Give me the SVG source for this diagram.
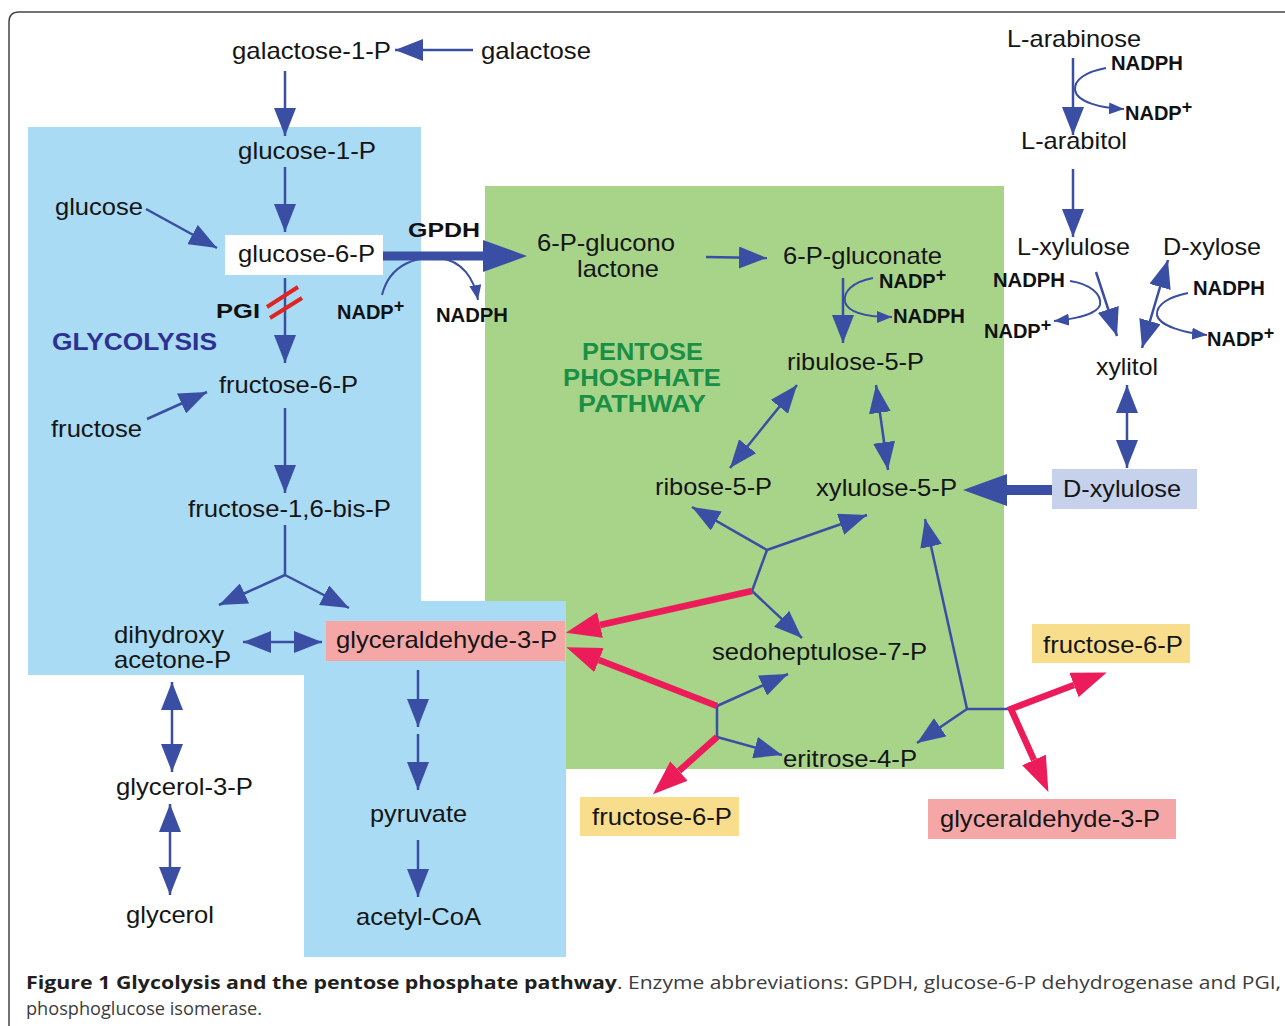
<svg xmlns="http://www.w3.org/2000/svg" width="1285" height="1026" viewBox="0 0 1285 1026">
<style>
.t{font-family:"Liberation Sans",Arial,sans-serif;font-size:24px;fill:#151515}
.b{font-family:"Liberation Sans",Arial,sans-serif;font-weight:bold;font-size:20px;fill:#111}
.sup{font-size:18px}
.c{fill:none;stroke:#3A4EA3;stroke-width:2.5}
.ca{fill:none;stroke:#3A4EA3;stroke-width:2.5;marker-end:url(#ah)}
.cd{fill:none;stroke:#3A4EA3;stroke-width:2.5;marker-start:url(#ah);marker-end:url(#ah)}
.cs{fill:none;stroke:#3A4EA3;stroke-width:2;marker-end:url(#as)}
.r{fill:none;stroke:#EC1C5B;stroke-width:6.5;marker-end:url(#ar)}
.cap{font-family:"Open Sans","Liberation Sans",sans-serif;font-size:18px}
</style>
<defs>
<marker id="ah" markerUnits="userSpaceOnUse" viewBox="0 0 28 22" markerWidth="28" markerHeight="22" refX="28" refY="11" orient="auto-start-reverse"><path d="M0,0 L28,11 L0,22 Z" fill="#3A4EA3"/></marker>
<marker id="as" markerUnits="userSpaceOnUse" viewBox="0 0 15 12" markerWidth="15" markerHeight="12" refX="15" refY="6" orient="auto"><path d="M0,0 L15,6 L0,12 Z" fill="#3A4EA3"/></marker>
<marker id="ab" markerUnits="userSpaceOnUse" viewBox="0 0 44 32" markerWidth="44" markerHeight="32" refX="0" refY="16" orient="auto"><path d="M0,0 L44,16 L0,32 Z" fill="#3A4EA3"/></marker>
<marker id="ar" markerUnits="userSpaceOnUse" viewBox="0 0 35 26" markerWidth="35" markerHeight="26" refX="0" refY="13" orient="auto-start-reverse"><path d="M0,0 L35,13 L0,26 Z" fill="#EC1C5B"/></marker>
</defs>
<rect width="1285" height="1026" fill="#fff"/>
<path d="M9,1030 L9,22 Q9,12 19,12 L1290,12" fill="none" stroke="#444" stroke-width="1.5"/>

<g id="regions">
<rect id="pentose-region" x="485" y="186" width="519" height="583" fill="#A7D489"/>
<path id="glycolysis-region" d="M28,127 H421 V601 H566 V957 H304 V675 H28 Z" fill="#A9DBF4"/>
<text x="52" y="350" font-family="Liberation Sans,Arial,sans-serif" font-weight="bold" font-size="24" fill="#2E3192" textLength="165" lengthAdjust="spacingAndGlyphs">GLYCOLYSIS</text>
<g font-family="Liberation Sans,Arial,sans-serif" font-weight="bold" font-size="24" fill="#1C8F47">
<text x="582" y="360" textLength="121" lengthAdjust="spacingAndGlyphs">PENTOSE</text>
<text x="563" y="386" textLength="158" lengthAdjust="spacingAndGlyphs">PHOSPHATE</text>
<text x="578" y="412" textLength="128" lengthAdjust="spacingAndGlyphs">PATHWAY</text>
</g>
</g>

<g id="connectors">
<path class="ca" d="M473,50 L395,50"/>
<path class="ca" d="M285,71 L285,136"/>
<path class="ca" d="M285,167 L285,232"/>
<path class="ca" d="M146,209 L217,248"/>
<path class="ca" d="M285,278 L285,363"/>
<path class="ca" d="M147,419 L207,392"/>
<path class="ca" d="M285,408 L285,493"/>
<path class="c" d="M285,525 L285,575"/>
<path class="ca" d="M285,575 L219,605"/>
<path class="ca" d="M285,575 L349,608"/>
<path class="cd" d="M243,642 L322,642"/>
<path class="ca" d="M418,670 L418,727"/>
<path class="ca" d="M418,734 L418,790"/>
<path class="ca" d="M418,840 L418,897"/>
<path class="cd" d="M172,682 L172,772"/>
<path class="cd" d="M170,804 L170,895"/>
<path d="M267,307 L298,287 M270,318 L302,298" stroke="#E02424" stroke-width="4" fill="none"/>
<path d="M383,256 L483,256" stroke="#3A4EA3" stroke-width="9" fill="none" marker-end="url(#ab)"/>
<path class="cs" d="M382,295 C390,263 418,256 440,258 C462,261 474,278 478,300"/>
<path class="ca" d="M706,257 L767,258"/>
<path class="ca" d="M843,278 L843,343"/>
<path class="cs" d="M873,278 C852,282 843,292 845,302 C848,312 865,317 892,317"/>
<path class="cd" d="M730,468 L797,385"/>
<path class="cd" d="M876,385 L888,470"/>
<path class="c" d="M752,591 L767,550"/>
<path class="ca" d="M767,550 L692,507"/>
<path class="ca" d="M767,550 L867,515"/>
<path class="ca" d="M752,591 L802,638"/>
<path class="c" d="M717,706 L717,737"/>
<path class="ca" d="M717,706 L788,674"/>
<path class="ca" d="M717,737 L782,755"/>
<path class="ca" d="M967,709 L925,519"/>
<path class="ca" d="M967,709 L917,743"/>
<path class="c" d="M967,709 L1012,709"/>
<path class="r" d="M752,591 L600,625"/>
<path class="r" d="M717,706 L599,660"/>
<path class="r" d="M717,737 L679,771"/>
<path class="r" d="M1074,685 L1011,709 L1034,760" marker-start="url(#ar)" stroke-linejoin="miter"/>
<path d="M1052,490 L1007,490" stroke="#3A4EA3" stroke-width="10" fill="none" marker-end="url(#ab)"/>
<path class="ca" d="M1073,58 L1073,135"/>
<path class="cs" d="M1106,68 C1085,72 1074,80 1075,90 C1077,102 1100,108 1124,109"/>
<path class="ca" d="M1073,169 L1073,237"/>
<path class="ca" d="M1096,272 L1117,336"/>
<path class="cs" d="M1070,281 C1090,284 1102,294 1100,305 C1097,314 1075,319 1054,321"/>
<path class="cd" d="M1142,348 L1168,260"/>
<path class="cs" d="M1188,293 C1168,297 1156,305 1157,315 C1159,326 1185,333 1207,335"/>
<path class="cd" d="M1127,385 L1127,468"/>
</g>

<g id="n-galactose-1-P"><text class="t" x="232" y="58.5" textLength="159" lengthAdjust="spacingAndGlyphs">galactose-1-P</text></g>
<g id="n-galactose"><text class="t" x="481" y="58.5" textLength="110" lengthAdjust="spacingAndGlyphs">galactose</text></g>
<g id="n-glucose-1-P"><text class="t" x="238" y="158.5" textLength="138" lengthAdjust="spacingAndGlyphs">glucose-1-P</text></g>
<g id="n-glucose"><text class="t" x="55" y="215" textLength="88" lengthAdjust="spacingAndGlyphs">glucose</text></g>
<g id="n-glucose-6-P"><rect x="225" y="235" width="158" height="40" fill="#fff"/><text class="t" x="238" y="262" textLength="137" lengthAdjust="spacingAndGlyphs">glucose-6-P</text></g>
<g id="l-GPDH"><text class="b" x="408" y="237" font-size="25" textLength="72" lengthAdjust="spacingAndGlyphs">GPDH</text></g>
<g id="l-PGI"><text class="b" x="216" y="318" font-size="25" textLength="44" lengthAdjust="spacingAndGlyphs">PGI</text></g>
<g id="l-nadp-1"><text class="b" x="337" y="319">NADP<tspan class="sup" dy="-7">+</tspan></text></g>
<g id="l-nadph-1"><text class="b" x="436" y="322" textLength="72" lengthAdjust="spacingAndGlyphs">NADPH</text></g>
<g id="n-fructose-6-P"><text class="t" x="219" y="393" textLength="139" lengthAdjust="spacingAndGlyphs">fructose-6-P</text></g>
<g id="n-fructose"><text class="t" x="51" y="437" textLength="91" lengthAdjust="spacingAndGlyphs">fructose</text></g>
<g id="n-fructose-1-6-bis-P"><text class="t" x="188" y="517" textLength="203" lengthAdjust="spacingAndGlyphs">fructose-1,6-bis-P</text></g>
<g id="n-dhap"><text class="t" x="114" y="643" textLength="110" lengthAdjust="spacingAndGlyphs">dihydroxy</text><text class="t" x="114" y="668" textLength="117" lengthAdjust="spacingAndGlyphs">acetone-P</text></g>
<g id="n-gap"><rect x="326" y="621" width="239" height="40" fill="#F5A7A8"/><text class="t" x="336" y="648" textLength="221" lengthAdjust="spacingAndGlyphs">glyceraldehyde-3-P</text></g>
<g id="n-glycerol-3-P"><text class="t" x="116" y="795" textLength="137" lengthAdjust="spacingAndGlyphs">glycerol-3-P</text></g>
<g id="n-glycerol"><text class="t" x="126" y="922.5" textLength="88" lengthAdjust="spacingAndGlyphs">glycerol</text></g>
<g id="n-pyruvate"><text class="t" x="370" y="822" textLength="97" lengthAdjust="spacingAndGlyphs">pyruvate</text></g>
<g id="n-acetyl-CoA"><text class="t" x="356" y="925" textLength="125" lengthAdjust="spacingAndGlyphs">acetyl-CoA</text></g>
<g id="n-6pgl"><text class="t" x="537" y="251" textLength="138" lengthAdjust="spacingAndGlyphs">6-P-glucono</text><text class="t" x="577" y="277" textLength="82" lengthAdjust="spacingAndGlyphs">lactone</text></g>
<g id="n-6pg"><text class="t" x="783" y="263.5" textLength="159" lengthAdjust="spacingAndGlyphs">6-P-gluconate</text></g>
<g id="l-nadp-2"><text class="b" x="879" y="288">NADP<tspan class="sup" dy="-7">+</tspan></text></g>
<g id="l-nadph-2"><text class="b" x="893" y="323" textLength="72" lengthAdjust="spacingAndGlyphs">NADPH</text></g>
<g id="n-ribulose-5-P"><text class="t" x="787" y="369.5" textLength="137" lengthAdjust="spacingAndGlyphs">ribulose-5-P</text></g>
<g id="n-ribose-5-P"><text class="t" x="655" y="495" textLength="117" lengthAdjust="spacingAndGlyphs">ribose-5-P</text></g>
<g id="n-xylulose-5-P"><text class="t" x="816" y="496" textLength="141" lengthAdjust="spacingAndGlyphs">xylulose-5-P</text></g>
<g id="n-sedoheptulose-7-P"><text class="t" x="712" y="660" textLength="215" lengthAdjust="spacingAndGlyphs">sedoheptulose-7-P</text></g>
<g id="n-eritrose-4-P"><text class="t" x="783" y="767" textLength="134" lengthAdjust="spacingAndGlyphs">eritrose-4-P</text></g>
<g id="n-f6p-bottom"><rect x="580" y="797" width="159" height="39" fill="#F8DE8C"/><text class="t" x="592" y="825" textLength="140" lengthAdjust="spacingAndGlyphs">fructose-6-P</text></g>
<g id="n-f6p-right"><rect x="1032" y="624" width="158" height="39" fill="#F8DE8C"/><text class="t" x="1043" y="653" textLength="140" lengthAdjust="spacingAndGlyphs">fructose-6-P</text></g>
<g id="n-gap-right"><rect x="928" y="799" width="248" height="40" fill="#F5A7A8"/><text class="t" x="940" y="827" textLength="220" lengthAdjust="spacingAndGlyphs">glyceraldehyde-3-P</text></g>
<g id="n-L-arabinose"><text class="t" x="1007" y="47" textLength="134" lengthAdjust="spacingAndGlyphs">L-arabinose</text></g>
<g id="l-nadph-3"><text class="b" x="1111" y="70" textLength="72" lengthAdjust="spacingAndGlyphs">NADPH</text></g>
<g id="l-nadp-3"><text class="b" x="1125" y="120">NADP<tspan class="sup" dy="-7">+</tspan></text></g>
<g id="n-L-arabitol"><text class="t" x="1021" y="148.5" textLength="106" lengthAdjust="spacingAndGlyphs">L-arabitol</text></g>
<g id="n-L-xylulose"><text class="t" x="1017" y="255" textLength="113" lengthAdjust="spacingAndGlyphs">L-xylulose</text></g>
<g id="n-D-xylose"><text class="t" x="1163" y="255" textLength="98" lengthAdjust="spacingAndGlyphs">D-xylose</text></g>
<g id="l-nadph-4"><text class="b" x="993" y="287" textLength="72" lengthAdjust="spacingAndGlyphs">NADPH</text></g>
<g id="l-nadp-4"><text class="b" x="984" y="338">NADP<tspan class="sup" dy="-7">+</tspan></text></g>
<g id="l-nadph-5"><text class="b" x="1193" y="295" textLength="72" lengthAdjust="spacingAndGlyphs">NADPH</text></g>
<g id="l-nadp-5"><text class="b" x="1207" y="346">NADP<tspan class="sup" dy="-7">+</tspan></text></g>
<g id="n-xylitol"><text class="t" x="1096" y="374.5" textLength="62" lengthAdjust="spacingAndGlyphs">xylitol</text></g>
<g id="n-D-xylulose"><rect x="1052" y="469" width="145" height="40" fill="#C6D1EB"/><text class="t" x="1063" y="497" textLength="118" lengthAdjust="spacingAndGlyphs">D-xylulose</text></g>

<g id="caption">
<text class="cap" x="26" y="989" font-weight="bold" fill="#231F20" textLength="591" lengthAdjust="spacingAndGlyphs">Figure 1 Glycolysis and the pentose phosphate pathway</text>
<text class="cap" x="617" y="989" fill="#3C3C3C" textLength="664" lengthAdjust="spacingAndGlyphs">. Enzyme abbreviations: GPDH, glucose-6-P dehydrogenase and PGI,</text>
<text class="cap" x="26" y="1015" fill="#3C3C3C" textLength="236" lengthAdjust="spacingAndGlyphs">phosphoglucose isomerase.</text>
</g>
</svg>
